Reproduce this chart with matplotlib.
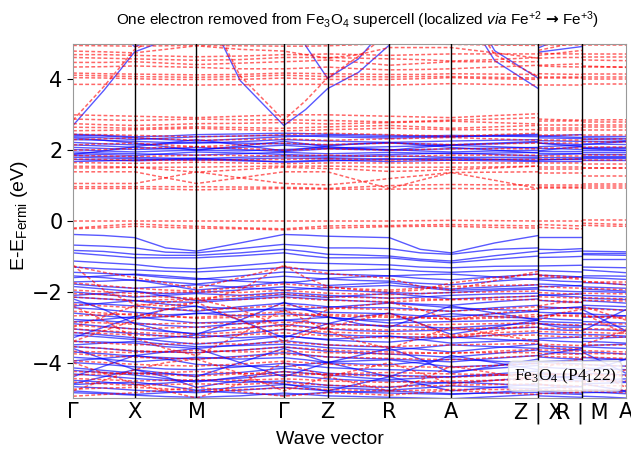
#!/usr/bin/env python3
"""
Spin-resolved band structure of the Fe3O4 (P4_1 22) supercell with one
electron removed. Spin-up bands are solid blue, spin-down dashed red.
"""
import numpy as np
import matplotlib
matplotlib.use('Agg')
import matplotlib.pyplot as plt

plt.rcParams['font.family'] = ['DejaVu Sans']
plt.rcParams['mathtext.fontset'] = 'custom'
plt.rcParams['mathtext.rm'] = 'Liberation Sans'
plt.rcParams['mathtext.it'] = 'Liberation Sans:italic'
plt.rcParams['mathtext.bf'] = 'DejaVu Sans:bold'
plt.rcParams['mathtext.tt'] = 'Liberation Serif'

# k-path: Γ-X-M-Γ-Z-R-A-Z | X-R | M-A
TICK_POS = [0.0, 1.0, 2.0, 3.414, 4.124, 5.124, 6.124, 7.538, 8.248, 8.958]
TICK_LABELS = ['Γ', 'X', 'M', 'Γ', 'Z', 'R', 'A', 'Z | X', 'R | M', 'A']

# Each band: energies (eV) at
# Γ, ΓX, X, XM, M, MΓ, Γ, ΓZ, Z, ZR, R, RA, A, AZ, Z | X, XR, R | M, MA, A

# ---- spin up (blue) ----
UP_CONDUCTION = [
    [2.70, 3.69, 4.78, 5.10, 6.5, 3.97, 2.70, 3.15, 3.74, 4.20, 4.97, 6.0, 6.5, 4.53, 3.74, 4.77, 4.85, 4.93, 6.5, 6.5, 6.5],
    [8.0, 5.8, 4.92, 5.3, 8.0, 7.0, 7.0, 4.95, 4.03, 4.58, 5.6, 6.5, 7.0, 4.81, 4.03, 4.89, 5.15, 5.5, 7.0, 7.0, 7.0],
]
UP_CLUSTER = [
    [2.45, 2.42, 2.38, 2.40, 2.44, 2.46, 2.48, 2.47, 2.45, 2.44, 2.42, 2.40, 2.38, 2.42, 2.45, 2.40, 2.38, 2.36, 2.35, 2.34, 2.33],
    [2.38, 2.35, 2.30, 2.34, 2.38, 2.40, 2.42, 2.40, 2.38, 2.36, 2.34, 2.36, 2.38, 2.40, 2.42, 2.35, 2.34, 2.33, 2.30, 2.30, 2.28],
    [2.30, 2.28, 2.25, 2.22, 2.20, 2.24, 2.30, 2.28, 2.26, 2.24, 2.22, 2.24, 2.26, 2.28, 2.30, 2.27, 2.26, 2.25, 2.25, 2.24, 2.24],
    [2.22, 2.18, 2.15, 2.18, 2.22, 2.20, 2.18, 2.16, 2.15, 2.18, 2.20, 2.18, 2.15, 2.18, 2.22, 2.20, 2.18, 2.16, 2.18, 2.17, 2.16],
    [2.15, 2.12, 2.08, 2.05, 2.02, 2.08, 2.14, 2.10, 2.06, 2.08, 2.10, 2.12, 2.14, 2.10, 2.06, 2.10, 2.12, 2.14, 2.10, 2.10, 2.10],
    [2.08, 2.05, 2.02, 2.04, 2.08, 2.02, 1.96, 2.00, 2.04, 2.02, 2.00, 2.02, 2.04, 2.06, 2.08, 2.05, 2.04, 2.02, 2.06, 2.06, 2.06],
    [2.02, 1.98, 1.95, 1.98, 2.00, 1.98, 2.02, 2.04, 2.06, 2.04, 2.02, 1.98, 1.95, 1.98, 2.00, 1.98, 1.98, 1.98, 2.00, 2.00, 2.00],
    [1.95, 1.92, 1.90, 1.88, 1.86, 1.90, 1.94, 1.92, 1.90, 1.92, 1.94, 1.92, 1.90, 1.92, 1.94, 1.92, 1.92, 1.92, 1.94, 1.94, 1.94],
    [1.90, 1.88, 1.85, 1.90, 1.95, 1.92, 1.88, 1.86, 1.84, 1.86, 1.88, 1.90, 1.92, 1.88, 1.84, 1.86, 1.88, 1.90, 1.88, 1.88, 1.88],
    [1.85, 1.82, 1.80, 1.78, 1.76, 1.80, 1.84, 1.82, 1.80, 1.82, 1.84, 1.82, 1.80, 1.80, 1.80, 1.82, 1.82, 1.82, 1.84, 1.84, 1.84],
    [1.80, 1.78, 1.76, 1.74, 1.72, 1.75, 1.78, 1.77, 1.76, 1.76, 1.76, 1.74, 1.72, 1.74, 1.76, 1.76, 1.76, 1.76, 1.78, 1.78, 1.78],
    [1.74, 1.72, 1.70, 1.72, 1.74, 1.70, 1.68, 1.70, 1.72, 1.70, 1.68, 1.70, 1.72, 1.70, 1.68, 1.70, 1.70, 1.70, 1.72, 1.72, 1.72],
    [2.35, 2.28, 2.20, 2.10, 2.00, 2.12, 2.25, 2.18, 2.10, 2.05, 2.00, 2.08, 2.15, 2.20, 2.25, 2.20, 2.15, 2.10, 2.15, 2.20, 2.25],
    [1.88, 1.98, 2.10, 2.20, 2.30, 2.15, 1.98, 2.05, 2.12, 2.18, 2.22, 2.15, 2.08, 2.00, 1.92, 1.98, 2.05, 2.10, 2.05, 2.02, 2.00],
    [2.42, 2.40, 2.35, 2.30, 2.26, 2.32, 2.38, 2.40, 2.42, 2.40, 2.38, 2.40, 2.42, 2.40, 2.38, 2.40, 2.42, 2.44, 2.40, 2.40, 2.40],
    [1.68, 1.70, 1.72, 1.75, 1.78, 1.72, 1.66, 1.68, 1.70, 1.72, 1.74, 1.76, 1.78, 1.74, 1.70, 1.72, 1.74, 1.76, 1.80, 1.80, 1.80],
]
UP_VALENCE = [
    [-0.38, -0.41, -0.47, -0.76, -0.85, -0.62, -0.38, -0.40, -0.43, -0.45, -0.47, -0.80, -0.90, -0.62, -0.41, -0.45, -0.45, -0.45, -0.85, -0.86, -0.87],
    [-0.68, -0.71, -0.76, -0.88, -0.90, -0.78, -0.66, -0.70, -0.76, -0.76, -0.78, -0.90, -0.94, -0.80, -0.76, -0.80, -0.81, -0.78, -0.90, -0.90, -0.90],
    [-0.83, -0.86, -0.94, -0.97, -0.97, -0.90, -0.80, -0.86, -0.94, -0.96, -0.99, -1.08, -1.13, -0.98, -0.85, -0.92, -0.88, -0.85, -0.95, -0.96, -0.97],
    [-0.90, -0.97, -1.04, -1.04, -1.04, -0.98, -0.90, -0.98, -1.04, -1.04, -1.04, -1.12, -1.18, -1.08, -0.99, -1.03, -1.02, -1.00, -1.06, -1.06, -1.06],
    [-1.13, -1.18, -1.23, -1.32, -1.35, -1.26, -1.16, -1.18, -1.20, -1.22, -1.24, -1.30, -1.32, -1.28, -1.27, -1.27, -1.26, -1.25, -1.30, -1.31, -1.32],
    [-1.30, -1.35, -1.38, -1.42, -1.44, -1.38, -1.32, -1.36, -1.40, -1.38, -1.36, -1.42, -1.45, -1.40, -1.38, -1.40, -1.42, -1.44, -1.38, -1.42, -1.46],
    [-1.45, -1.48, -1.52, -1.60, -1.65, -1.55, -1.44, -1.47, -1.50, -1.52, -1.55, -1.62, -1.66, -1.58, -1.50, -1.53, -1.55, -1.58, -1.60, -1.62, -1.65],
    [-1.55, -1.60, -1.68, -1.72, -1.78, -1.66, -1.56, -1.60, -1.64, -1.68, -1.70, -1.76, -1.80, -1.70, -1.62, -1.66, -1.70, -1.72, -1.74, -1.76, -1.80],
    [-1.60, -1.55, -1.50, -1.55, -1.62, -1.70, -1.75, -1.70, -1.62, -1.58, -1.55, -1.52, -1.50, -1.58, -1.66, -1.62, -1.60, -1.58, -1.55, -1.55, -1.56],
    [-1.72, -1.70, -1.66, -1.80, -1.95, -1.85, -1.72, -1.78, -1.82, -1.78, -1.74, -1.84, -1.92, -1.86, -1.80, -1.78, -1.80, -1.84, -1.86, -1.88, -1.90],
    [-1.78, -1.85, -1.90, -1.86, -1.80, -1.88, -1.95, -1.92, -1.88, -1.85, -1.82, -1.88, -1.96, -1.92, -1.88, -1.86, -1.84, -1.82, -1.92, -1.95, -1.98],
    [-1.85, -1.92, -2.00, -2.05, -2.02, -1.95, -1.86, -1.90, -1.95, -1.98, -2.02, -2.05, -2.02, -1.96, -1.92, -1.95, -1.98, -2.00, -1.98, -2.00, -2.02],
    [-2.00, -2.08, -2.15, -2.10, -2.05, -2.10, -2.02, -2.06, -2.10, -2.14, -2.18, -2.15, -2.10, -2.06, -2.04, -2.08, -2.12, -2.15, -2.10, -2.12, -2.14],
    [-2.10, -2.05, -1.98, -2.12, -2.25, -2.18, -2.08, -2.12, -2.16, -2.10, -2.05, -2.12, -2.20, -2.16, -2.12, -2.10, -2.08, -2.06, -2.18, -2.20, -2.22],
    [-2.15, -2.20, -2.25, -2.28, -2.30, -2.22, -2.14, -2.18, -2.22, -2.26, -2.30, -2.35, -2.38, -2.28, -2.20, -2.24, -2.28, -2.30, -2.25, -2.28, -2.32],
    [-2.30, -2.35, -2.40, -2.48, -2.55, -2.42, -2.32, -2.36, -2.42, -2.45, -2.45, -2.50, -2.55, -2.45, -2.38, -2.42, -2.45, -2.45, -2.45, -2.48, -2.52],
    [-2.40, -2.32, -2.25, -2.35, -2.42, -2.48, -2.52, -2.48, -2.44, -2.38, -2.32, -2.38, -2.45, -2.50, -2.55, -2.50, -2.46, -2.42, -2.38, -2.40, -2.42],
    [-2.45, -2.50, -2.58, -2.65, -2.62, -2.55, -2.46, -2.52, -2.58, -2.60, -2.62, -2.68, -2.70, -2.62, -2.55, -2.58, -2.60, -2.62, -2.62, -2.65, -2.68],
    [-2.60, -2.68, -2.75, -2.70, -2.60, -2.68, -2.62, -2.66, -2.72, -2.78, -2.80, -2.72, -2.62, -2.70, -2.76, -2.74, -2.78, -2.80, -2.72, -2.70, -2.68],
    [-2.78, -2.82, -2.88, -2.95, -3.00, -2.90, -2.80, -2.85, -2.90, -2.94, -2.96, -3.00, -3.02, -2.95, -2.88, -2.90, -2.94, -2.96, -2.92, -2.95, -2.98],
    [-2.85, -2.78, -2.70, -2.80, -2.88, -2.84, -2.80, -2.76, -2.72, -2.80, -2.88, -2.86, -2.84, -2.82, -2.80, -2.84, -2.86, -2.88, -2.84, -2.86, -2.88],
    [-2.90, -2.98, -3.05, -3.12, -3.18, -3.05, -2.92, -2.98, -3.05, -3.10, -3.12, -3.10, -3.08, -3.04, -3.00, -3.05, -3.08, -3.10, -3.06, -3.08, -3.10],
    [-3.05, -3.12, -3.18, -3.25, -3.30, -3.20, -3.06, -3.12, -3.20, -3.24, -3.26, -3.28, -3.30, -3.22, -3.15, -3.18, -3.20, -3.22, -3.20, -3.22, -3.25],
    [-3.15, -3.22, -3.30, -3.40, -3.48, -3.38, -3.25, -3.30, -3.34, -3.30, -3.25, -3.35, -3.45, -3.40, -3.35, -3.32, -3.30, -3.28, -3.40, -3.42, -3.45],
    [-3.22, -3.28, -3.35, -3.30, -3.22, -3.30, -3.24, -3.30, -3.36, -3.40, -3.42, -3.35, -3.28, -3.34, -3.40, -3.36, -3.40, -3.42, -3.32, -3.30, -3.28],
    [-3.40, -3.42, -3.45, -3.55, -3.60, -3.50, -3.38, -3.44, -3.50, -3.54, -3.56, -3.62, -3.70, -3.58, -3.48, -3.52, -3.55, -3.58, -3.55, -3.58, -3.60],
    [-3.50, -3.45, -3.40, -3.48, -3.55, -3.52, -3.48, -3.52, -3.58, -3.62, -3.65, -3.58, -3.50, -3.55, -3.60, -3.58, -3.62, -3.65, -3.52, -3.50, -3.48],
    [-3.55, -3.60, -3.68, -3.70, -3.72, -3.65, -3.56, -3.62, -3.68, -3.72, -3.76, -3.80, -3.85, -3.74, -3.64, -3.68, -3.72, -3.75, -3.70, -3.72, -3.76],
    [-3.70, -3.75, -3.82, -3.86, -3.90, -3.82, -3.72, -3.78, -3.84, -3.88, -3.90, -3.94, -3.98, -3.88, -3.80, -3.84, -3.88, -3.90, -3.86, -3.88, -3.92],
    [-3.85, -3.90, -3.98, -3.92, -3.85, -3.90, -3.86, -3.92, -4.00, -4.04, -4.06, -3.98, -3.90, -3.96, -4.02, -3.98, -4.02, -4.04, -3.95, -3.92, -3.90],
    [-3.95, -3.88, -3.80, -3.90, -4.05, -4.10, -4.12, -4.05, -3.98, -3.95, -3.92, -4.02, -4.12, -4.08, -4.02, -3.98, -3.95, -3.92, -4.05, -4.08, -4.10],
    [-4.00, -4.05, -4.12, -4.18, -4.20, -4.12, -4.02, -4.08, -4.14, -4.18, -4.20, -4.22, -4.25, -4.16, -4.08, -4.12, -4.16, -4.18, -4.15, -4.18, -4.20],
    [-4.15, -4.22, -4.30, -4.32, -4.35, -4.28, -4.16, -4.22, -4.30, -4.34, -4.36, -4.38, -4.40, -4.32, -4.24, -4.28, -4.32, -4.34, -4.30, -4.32, -4.35],
    [-4.22, -4.28, -4.35, -4.45, -4.55, -4.40, -4.25, -4.30, -4.35, -4.42, -4.48, -4.44, -4.40, -4.36, -4.32, -4.38, -4.42, -4.46, -4.50, -4.48, -4.46],
    [-4.32, -4.38, -4.45, -4.50, -4.52, -4.44, -4.34, -4.40, -4.46, -4.50, -4.52, -4.55, -4.58, -4.50, -4.42, -4.46, -4.50, -4.52, -4.48, -4.50, -4.54],
    [-4.50, -4.55, -4.62, -4.58, -4.50, -4.56, -4.52, -4.58, -4.64, -4.68, -4.70, -4.62, -4.55, -4.60, -4.66, -4.62, -4.66, -4.68, -4.60, -4.58, -4.56],
    [-4.62, -4.58, -4.55, -4.65, -4.78, -4.70, -4.62, -4.66, -4.70, -4.74, -4.78, -4.72, -4.66, -4.70, -4.74, -4.72, -4.70, -4.68, -4.76, -4.78, -4.80],
    [-4.68, -4.72, -4.78, -4.82, -4.85, -4.78, -4.70, -4.75, -4.80, -4.84, -4.86, -4.88, -4.90, -4.84, -4.76, -4.80, -4.84, -4.86, -4.82, -4.85, -4.88],
    [-4.80, -4.85, -4.90, -4.85, -4.80, -4.86, -4.92, -4.88, -4.84, -4.82, -4.80, -4.84, -4.88, -4.86, -4.84, -4.86, -4.88, -4.90, -4.85, -4.84, -4.82],
    [-4.85, -4.88, -4.92, -4.96, -4.98, -4.94, -4.86, -4.90, -4.94, -4.96, -4.98, -5.00, -5.02, -4.96, -4.90, -4.94, -4.96, -4.98, -4.95, -4.97, -5.00],
    [-2.2, -2.5, -2.9, -3.1, -3.2, -2.8, -2.3, -2.5, -2.7, -2.9, -3.0, -2.7, -2.4, -2.6, -2.8, -2.9, -3.0, -3.0, -3.1, -2.8, -2.5],
    [-3.3, -3.0, -2.7, -2.5, -2.4, -2.8, -3.3, -3.1, -2.9, -2.7, -2.6, -2.9, -3.2, -3.0, -2.8, -2.7, -2.6, -2.6, -2.5, -2.8, -3.1],
    [-3.6, -3.9, -4.2, -4.3, -4.4, -4.0, -3.6, -3.8, -4.0, -4.2, -4.4, -4.1, -3.8, -4.0, -4.2, -4.3, -4.4, -4.4, -4.3, -4.1, -3.9],
    [-4.4, -4.1, -3.8, -3.7, -3.6, -4.0, -4.4, -4.2, -4.0, -3.8, -3.6, -3.9, -4.3, -4.1, -3.9, -3.8, -3.7, -3.6, -3.7, -4.0, -4.3],
    [-4.6, -4.4, -4.2, -4.4, -4.7, -4.5, -4.6, -4.7, -4.8, -4.6, -4.4, -4.6, -4.8, -4.7, -4.6, -4.5, -4.4, -4.4, -4.6, -4.7, -4.8],
]

# ---- spin down (red) ----
DOWN_CONDUCTION = [
    [2.85, 3.80, 4.85, 5.3, 6.5, 4.10, 2.85, 3.40, 4.05, 4.65, 5.30, 6.2, 6.6, 4.70, 4.08, 4.82, 4.95, 5.10, 6.5, 6.5, 6.5],
    [4.96, 4.95, 4.94, 4.95, 4.96, 4.95, 4.94, 4.94, 4.95, 4.98, 5.05, 5.00, 4.99, 4.97, 4.96, 4.96, 4.96, 4.96, 4.96, 4.96, 4.96],
    [4.80, 4.78, 4.75, 4.85, 4.95, 4.85, 4.80, 4.70, 4.60, 4.70, 4.90, 4.90, 4.90, 4.75, 4.60, 4.68, 4.75, 4.82, 4.62, 4.62, 4.62],
    [4.70, 4.70, 4.68, 4.66, 4.64, 4.66, 4.70, 4.70, 4.72, 4.70, 4.68, 4.70, 4.72, 4.72, 4.72, 4.74, 4.72, 4.72, 4.72, 4.72, 4.72],
    [4.62, 4.60, 4.58, 4.56, 4.54, 4.56, 4.62, 4.62, 4.62, 4.60, 4.58, 4.56, 4.52, 4.56, 4.62, 4.60, 4.62, 4.62, 4.55, 4.54, 4.53],
    [4.48, 4.48, 4.50, 4.46, 4.42, 4.46, 4.50, 4.52, 4.55, 4.48, 4.40, 4.45, 4.50, 4.50, 4.50, 4.40, 4.42, 4.44, 4.38, 4.36, 4.34],
    [4.35, 4.36, 4.38, 4.36, 4.34, 4.30, 4.30, 4.32, 4.35, 4.30, 4.27, 4.28, 4.30, 4.35, 4.40, 4.38, 4.36, 4.35, 4.35, 4.35, 4.35],
    [4.18, 4.16, 4.15, 4.14, 4.13, 4.14, 4.18, 4.17, 4.16, 4.15, 4.14, 4.14, 4.16, 4.15, 4.14, 4.16, 4.15, 4.14, 4.16, 4.16, 4.16],
    [4.12, 4.10, 4.08, 4.07, 4.06, 4.08, 4.12, 4.10, 4.08, 4.08, 4.07, 4.08, 4.08, 4.06, 4.04, 4.06, 4.06, 4.06, 4.08, 4.08, 4.08],
    [4.05, 4.04, 4.02, 4.00, 4.00, 4.00, 4.04, 4.02, 4.00, 4.00, 4.00, 4.02, 4.05, 4.02, 4.00, 4.04, 4.04, 4.04, 4.02, 4.02, 4.02],
    [3.86, 3.86, 3.86, 3.85, 3.84, 3.85, 3.86, 3.86, 3.86, 3.85, 3.84, 3.86, 3.88, 3.86, 3.84, 3.84, 3.84, 3.84, 3.88, 3.88, 3.88],
    [3.00, 2.98, 2.96, 2.94, 2.92, 2.96, 3.00, 3.00, 3.00, 2.98, 2.96, 2.94, 2.92, 2.98, 3.03, 2.88, 2.86, 2.85, 2.85, 2.86, 2.86],
    [2.88, 2.86, 2.84, 2.86, 2.88, 2.86, 2.86, 2.85, 2.84, 2.82, 2.80, 2.82, 2.85, 2.88, 2.92, 2.82, 2.82, 2.82, 2.80, 2.80, 2.80],
    [2.75, 2.72, 2.70, 2.72, 2.75, 2.76, 2.78, 2.76, 2.74, 2.76, 2.78, 2.80, 2.82, 2.78, 2.74, 2.72, 2.72, 2.72, 2.72, 2.72, 2.72],
    [2.65, 2.64, 2.62, 2.64, 2.66, 2.64, 2.62, 2.64, 2.66, 2.68, 2.70, 2.66, 2.62, 2.66, 2.70, 2.64, 2.64, 2.64, 2.65, 2.65, 2.65],
    [2.55, 2.56, 2.58, 2.60, 2.62, 2.58, 2.55, 2.56, 2.58, 2.60, 2.62, 2.60, 2.58, 2.58, 2.58, 2.58, 2.58, 2.58, 2.58, 2.58, 2.58],
    [2.45, 2.44, 2.42, 2.40, 2.38, 2.40, 2.44, 2.46, 2.48, 2.46, 2.44, 2.42, 2.40, 2.44, 2.48, 2.44, 2.44, 2.44, 2.42, 2.42, 2.42],
    [2.30, 2.32, 2.35, 2.32, 2.28, 2.30, 2.32, 2.30, 2.28, 2.30, 2.32, 2.34, 2.36, 2.32, 2.28, 2.30, 2.30, 2.30, 2.32, 2.32, 2.32],
    [2.15, 2.18, 2.20, 2.15, 2.10, 2.15, 2.20, 2.18, 2.16, 2.18, 2.20, 2.18, 2.16, 2.18, 2.20, 2.20, 2.20, 2.20, 2.22, 2.22, 2.22],
    [2.00, 2.02, 2.05, 2.08, 2.10, 2.05, 2.00, 2.02, 2.04, 2.02, 2.00, 2.02, 2.04, 2.04, 2.04, 2.06, 2.06, 2.06, 2.08, 2.08, 2.08],
    [1.85, 1.84, 1.82, 1.84, 1.86, 1.85, 1.84, 1.85, 1.86, 1.84, 1.82, 1.84, 1.86, 1.86, 1.86, 1.85, 1.85, 1.85, 1.87, 1.87, 1.87],
    [1.75, 1.74, 1.72, 1.72, 1.72, 1.73, 1.74, 1.75, 1.76, 1.74, 1.72, 1.73, 1.74, 1.74, 1.74, 1.74, 1.74, 1.74, 1.72, 1.72, 1.72],
    [1.65, 1.64, 1.63, 1.64, 1.66, 1.64, 1.62, 1.63, 1.64, 1.64, 1.64, 1.64, 1.64, 1.64, 1.64, 1.64, 1.64, 1.64, 1.62, 1.62, 1.62],
    [1.55, 1.54, 1.52, 1.52, 1.52, 1.54, 1.55, 1.55, 1.55, 1.54, 1.52, 1.52, 1.52, 1.53, 1.55, 1.52, 1.52, 1.52, 1.50, 1.50, 1.50],
    [1.50, 1.50, 1.52, 1.45, 1.38, 1.45, 1.52, 1.50, 1.48, 1.45, 1.40, 1.42, 1.45, 1.50, 1.55, 1.48, 1.48, 1.48, 1.50, 1.50, 1.50],
    [1.39, 1.39, 1.39, 1.22, 1.06, 1.22, 1.39, 1.39, 1.39, 1.15, 0.92, 1.15, 1.37, 1.15, 0.92, 1.36, 1.36, 1.36, 1.27, 1.27, 1.27],
    [1.06, 1.06, 1.06, 1.22, 1.39, 1.22, 1.06, 1.04, 1.02, 1.10, 1.20, 1.28, 1.37, 1.38, 1.39, 1.03, 1.03, 1.03, 1.04, 1.04, 1.04],
    [0.97, 0.97, 0.97, 0.97, 0.97, 0.96, 0.95, 0.94, 0.92, 0.96, 1.00, 1.02, 1.03, 1.02, 1.02, 0.97, 0.97, 0.97, 0.98, 0.98, 0.98],
    [0.92, 0.92, 0.92, 0.90, 0.88, 0.90, 0.92, 0.91, 0.90, 0.90, 0.90, 0.91, 0.92, 0.91, 0.90, 0.92, 0.92, 0.92, 0.92, 0.92, 0.92],
]
DOWN_VALENCE = [
    [0.00, 0.00, 0.00, 0.00, 0.00, 0.00, 0.00, 0.00, 0.00, 0.00, 0.00, 0.01, 0.02, 0.01, 0.00, 0.00, 0.00, 0.00, 0.02, 0.02, 0.02],
    [-0.20, -0.14, -0.08, -0.12, -0.15, -0.19, -0.22, -0.18, -0.14, -0.13, -0.13, -0.11, -0.10, -0.12, -0.14, -0.10, -0.12, -0.14, -0.06, -0.08, -0.10],
    [-0.22, -0.19, -0.15, -0.18, -0.20, -0.22, -0.25, -0.22, -0.20, -0.18, -0.16, -0.15, -0.15, -0.18, -0.20, -0.18, -0.20, -0.22, -0.12, -0.14, -0.15],
    [-1.25, -1.95, -2.35, -2.40, -2.30, -1.95, -1.25, -1.60, -1.85, -1.95, -2.00, -1.95, -1.75, -1.60, -1.50, -1.55, -1.60, -1.65, -1.70, -1.75, -1.80],
    [-1.27, -1.45, -1.60, -1.75, -1.90, -1.60, -1.28, -1.38, -1.48, -1.55, -1.62, -1.85, -1.95, -1.68, -1.42, -1.52, -1.56, -1.62, -1.72, -1.72, -1.72],
    [-1.75, -1.82, -1.90, -1.95, -1.98, -1.88, -1.78, -1.82, -1.88, -1.92, -1.95, -1.90, -1.85, -1.82, -1.80, -1.84, -1.88, -1.90, -1.90, -1.92, -1.94],
    [-1.95, -2.00, -2.05, -2.02, -2.00, -2.02, -1.96, -2.00, -2.04, -2.06, -2.08, -2.05, -2.02, -2.00, -1.98, -2.02, -2.05, -2.06, -2.04, -2.05, -2.06],
    [-2.05, -2.08, -2.12, -2.15, -2.18, -2.12, -2.06, -2.10, -2.14, -2.16, -2.18, -2.20, -2.22, -2.16, -2.12, -2.14, -2.16, -2.18, -2.16, -2.18, -2.20],
    [-2.15, -2.20, -2.25, -2.22, -2.20, -2.22, -2.16, -2.20, -2.24, -2.26, -2.28, -2.25, -2.22, -2.22, -2.22, -2.24, -2.26, -2.28, -2.24, -2.25, -2.26],
    [-2.35, -2.40, -2.45, -2.50, -2.52, -2.46, -2.38, -2.42, -2.46, -2.48, -2.50, -2.52, -2.55, -2.48, -2.42, -2.44, -2.46, -2.48, -2.48, -2.50, -2.52],
    [-2.55, -2.60, -2.66, -2.70, -2.72, -2.65, -2.56, -2.62, -2.68, -2.70, -2.72, -2.74, -2.76, -2.70, -2.64, -2.66, -2.68, -2.70, -2.68, -2.70, -2.72],
    [-2.68, -2.65, -2.62, -2.68, -2.75, -2.72, -2.68, -2.66, -2.64, -2.66, -2.68, -2.72, -2.78, -2.74, -2.70, -2.68, -2.66, -2.66, -2.70, -2.72, -2.76],
    [-2.85, -2.88, -2.92, -2.90, -2.88, -2.90, -2.86, -2.88, -2.92, -2.94, -2.96, -2.94, -2.92, -2.90, -2.88, -2.90, -2.92, -2.94, -2.92, -2.92, -2.92],
    [-2.95, -3.00, -3.05, -3.02, -3.00, -3.02, -2.96, -3.00, -3.04, -3.06, -3.08, -3.06, -3.04, -3.02, -3.00, -3.02, -3.04, -3.06, -3.04, -3.05, -3.06],
    [-3.05, -3.10, -3.15, -3.18, -3.20, -3.14, -3.06, -3.10, -3.14, -3.16, -3.18, -3.20, -3.22, -3.16, -3.10, -3.12, -3.14, -3.16, -3.14, -3.16, -3.18],
    [-3.15, -3.18, -3.22, -3.25, -3.28, -3.22, -3.16, -3.20, -3.24, -3.28, -3.30, -3.28, -3.26, -3.24, -3.22, -3.24, -3.26, -3.28, -3.24, -3.26, -3.28],
    [-3.40, -3.45, -3.50, -3.48, -3.45, -3.48, -3.42, -3.46, -3.50, -3.52, -3.55, -3.52, -3.50, -3.48, -3.46, -3.48, -3.50, -3.52, -3.50, -3.50, -3.50],
    [-3.55, -3.60, -3.66, -3.70, -3.72, -3.65, -3.56, -3.60, -3.64, -3.68, -3.70, -3.72, -3.74, -3.68, -3.62, -3.64, -3.66, -3.68, -3.66, -3.68, -3.70],
    [-3.68, -3.70, -3.72, -3.68, -3.65, -3.70, -3.68, -3.70, -3.72, -3.74, -3.76, -3.74, -3.72, -3.72, -3.72, -3.74, -3.76, -3.76, -3.74, -3.75, -3.76],
    [-3.75, -3.80, -3.85, -3.88, -3.90, -3.84, -3.76, -3.80, -3.84, -3.86, -3.88, -3.90, -3.92, -3.86, -3.80, -3.82, -3.84, -3.86, -3.84, -3.86, -3.88],
    [-3.95, -4.00, -4.05, -4.08, -4.10, -4.04, -3.96, -4.00, -4.04, -4.08, -4.10, -4.12, -4.14, -4.08, -4.02, -4.04, -4.06, -4.08, -4.06, -4.08, -4.10],
    [-4.25, -4.28, -4.32, -4.35, -4.38, -4.32, -4.26, -4.30, -4.34, -4.36, -4.38, -4.40, -4.42, -4.36, -4.30, -4.32, -4.34, -4.36, -4.34, -4.36, -4.38],
    [-4.35, -4.32, -4.30, -4.28, -4.25, -4.30, -4.36, -4.34, -4.32, -4.30, -4.28, -4.30, -4.32, -4.34, -4.36, -4.34, -4.32, -4.30, -4.32, -4.34, -4.36],
    [-4.45, -4.48, -4.52, -4.50, -4.48, -4.50, -4.46, -4.48, -4.52, -4.54, -4.56, -4.54, -4.52, -4.50, -4.48, -4.50, -4.52, -4.54, -4.52, -4.52, -4.52],
    [-4.55, -4.60, -4.65, -4.62, -4.60, -4.62, -4.56, -4.60, -4.64, -4.66, -4.68, -4.66, -4.64, -4.62, -4.60, -4.62, -4.64, -4.66, -4.64, -4.65, -4.66],
    [-4.75, -4.72, -4.70, -4.74, -4.80, -4.76, -4.72, -4.74, -4.76, -4.78, -4.80, -4.78, -4.76, -4.76, -4.76, -4.76, -4.78, -4.80, -4.78, -4.78, -4.78],
    [-4.95, -4.90, -4.85, -4.78, -4.70, -4.82, -4.95, -4.90, -4.85, -4.88, -4.92, -4.85, -4.78, -4.85, -4.90, -4.88, -4.86, -4.84, -4.80, -4.82, -4.85],
    [-2.4, -2.8, -3.3, -3.6, -3.8, -3.2, -2.5, -2.8, -3.1, -3.4, -3.6, -3.3, -3.0, -3.2, -3.4, -3.5, -3.6, -3.6, -3.5, -3.3, -3.1],
    [-3.4, -3.1, -2.8, -2.5, -2.3, -2.8, -3.4, -3.2, -3.0, -2.8, -2.6, -2.9, -3.3, -3.1, -2.9, -2.8, -2.6, -2.5, -2.6, -2.9, -3.2],
    [-4.0, -4.3, -4.6, -4.8, -5.0, -4.6, -4.0, -4.2, -4.4, -4.6, -4.8, -4.5, -4.1, -4.3, -4.5, -4.6, -4.7, -4.8, -4.6, -4.4, -4.2],
    [-4.8, -4.5, -4.2, -4.0, -3.9, -4.3, -4.8, -4.6, -4.4, -4.2, -4.0, -4.3, -4.6, -4.5, -4.4, -4.2, -4.0, -3.9, -4.1, -4.4, -4.7],
    [-3.0, -2.7, -2.4, -2.3, -2.2, -2.5, -3.0, -2.8, -2.5, -2.4, -2.3, -2.5, -2.8, -2.6, -2.5, -2.4, -2.3, -2.3, -2.4, -2.6, -2.8],
]


def path_segments():
    """
    x positions of the sampled nodes for the three continuous pieces of the path
    """
    t = TICK_POS
    main = []
    for a, b in zip(t[:7], t[1:8]):
        main += [a, (a + b) / 2]
    main.append(t[7])
    xr = [t[7], (t[7] + t[8]) / 2, t[8]]
    ma = [t[8], (t[8] + t[9]) / 2, t[9]]
    return np.array(main), np.array(xr), np.array(ma)


def draw_bands(ax, bands, **style):
    x_main, x_xr, x_ma = path_segments()
    for band in bands:
        e = np.asarray(band)
        ax.plot(x_main, e[:15], **style)
        ax.plot(x_xr, e[15:18], **style)
        ax.plot(x_ma, e[18:], **style)


def main():
    fig = plt.figure(figsize=(6.31, 4.59), dpi=100)
    ax = fig.add_axes([0.1157, 0.1329, 0.8764, 0.7712])

    up = dict(color='blue', lw=1.0, alpha=0.65, solid_capstyle='butt')
    down = dict(color='red', lw=1.1, alpha=0.6, linestyle=(0, (2.5, 1.5)))
    draw_bands(ax, UP_CONDUCTION + UP_CLUSTER + UP_VALENCE, **up)
    draw_bands(ax, DOWN_CONDUCTION + DOWN_VALENCE, **down)

    for x in TICK_POS[1:-1]:
        ax.axvline(x, color='black', lw=1.0, zorder=3)

    ax.set_xlim(TICK_POS[0], TICK_POS[-1])
    ax.set_ylim(-5, 5)
    ax.set_xticks(TICK_POS)
    ax.set_xticklabels(TICK_LABELS)
    ax.set_yticks([-4, -2, 0, 2, 4])
    ax.tick_params(axis='x', length=0, labelsize=15, pad=3)
    ax.tick_params(axis='y', length=4, labelsize=15)
    for side in ax.spines.values():
        side.set_color('0.6')

    sans = ['Liberation Sans', 'DejaVu Sans']
    fig.text(0.567, 0.955,
             'One electron removed from Fe$_3$O$_4$ supercell '
             '(localized $\\mathit{via}$ Fe$^{+2}$ $\\mathbf{→}$ Fe$^{+3}$)',
             ha='center', va='center', fontsize=11, family=sans)
    fig.text(0.523, 0.042, 'Wave vector', ha='center', va='center',
             fontsize=14, family=sans)
    fig.text(0.031, 0.53, 'E-E$_{\\mathrm{Fermi}}$ (eV)', ha='center', va='center',
             rotation=90, fontsize=14, family=sans)

    ax.text(0.89, 0.062, 'Fe$_\\mathtt{3}$O$_\\mathtt{4}$ (P4$_\\mathtt{1}$22)',
            transform=ax.transAxes, ha='center', va='center', fontsize=12.5,
            family=['Liberation Serif'], zorder=5,
            bbox=dict(boxstyle='round,pad=0.3', fc='white', ec='0.85', alpha=0.85))

    fig.savefig('out.png', dpi=100)
    plt.close(fig)


if __name__ == "__main__":
    main()
